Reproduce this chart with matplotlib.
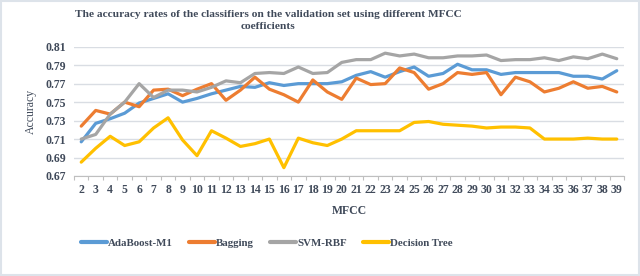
import numpy as np
import matplotlib
matplotlib.use("Agg")
import matplotlib.pyplot as plt
from matplotlib.patches import Rectangle

# MFCC coefficient counts on the x axis
mfcc = list(range(2, 40))

adaboost = [0.707, 0.727, 0.732, 0.738, 0.749, 0.754, 0.759, 0.750, 0.754, 0.759,
            0.763, 0.767, 0.766, 0.771, 0.768, 0.770, 0.770, 0.770, 0.772, 0.779,
            0.783, 0.777, 0.783, 0.788, 0.778, 0.781, 0.791, 0.785, 0.785, 0.780,
            0.782, 0.782, 0.782, 0.782, 0.778, 0.778, 0.775, 0.784]
bagging = [0.724, 0.741, 0.737, 0.750, 0.745, 0.763, 0.764, 0.757, 0.764, 0.770,
           0.752, 0.763, 0.777, 0.764, 0.758, 0.750, 0.774, 0.761, 0.753, 0.776,
           0.769, 0.770, 0.787, 0.782, 0.764, 0.770, 0.782, 0.780, 0.782, 0.758,
           0.777, 0.772, 0.761, 0.765, 0.772, 0.765, 0.767, 0.761]
svm_rbf = [0.710, 0.715, 0.737, 0.750, 0.770, 0.755, 0.763, 0.763, 0.761, 0.766,
           0.773, 0.771, 0.781, 0.782, 0.781, 0.788, 0.781, 0.782, 0.793, 0.796,
           0.796, 0.803, 0.800, 0.802, 0.798, 0.798, 0.800, 0.800, 0.801, 0.795,
           0.796, 0.796, 0.798, 0.795, 0.799, 0.797, 0.802, 0.797]
decision_tree = [0.685, 0.700, 0.713, 0.703, 0.707, 0.722, 0.733, 0.709, 0.692, 0.719,
                 0.711, 0.702, 0.705, 0.710, 0.679, 0.711, 0.706, 0.703, 0.710, 0.719,
                 0.719, 0.719, 0.719, 0.728, 0.729, 0.726, 0.725, 0.724, 0.722, 0.723,
                 0.723, 0.722, 0.710, 0.710, 0.710, 0.711, 0.710, 0.710]

y_ticks = [0.67, 0.69, 0.71, 0.73, 0.75, 0.77, 0.79, 0.81]

series = [
    ("AdaBoost-M1", adaboost, "#5B9BD5"),
    ("Bagging", bagging, "#ED7D31"),
    ("SVM-RBF", svm_rbf, "#A5A5A5"),
    ("Decision Tree", decision_tree, "#FFC000"),
]

txt_color = "#404A5A"
plt.rcParams["font.family"] = ["Liberation Serif", "DejaVu Serif"]
plt.rcParams["font.weight"] = "bold"

fig = plt.figure(figsize=(6.4, 2.76), dpi=100)
ax = fig.add_axes([74 / 640, 1 - 176 / 276, 550 / 640, (176 - 46.7) / 276])

for name, vals, col in series:
    ax.plot(mfcc, vals, color=col, linewidth=2.3, label=name, solid_capstyle="round")

ax.set_xlim(1.5, 39.5)
ax.set_ylim(0.67, 0.81)
ax.set_yticks(y_ticks)
ax.set_yticklabels([f"{v:.2f}" for v in y_ticks])
ax.set_xticks(mfcc)
ax.set_xticks(np.arange(1.5, 40, 1), minor=True)
ax.tick_params(axis="x", which="major", length=0, pad=6, labelsize=8.5, colors=txt_color)
ax.tick_params(axis="x", which="minor", length=3, color="#BFBFBF", width=0.8)
ax.tick_params(axis="y", length=0, pad=6, labelsize=8.5, colors=txt_color)
for lab in ax.get_xticklabels() + ax.get_yticklabels():
    lab.set_fontweight("bold")

ax.grid(axis="y", color="#D9DDE3", linewidth=1.0)
ax.set_axisbelow(True)
for s in ["top", "right", "left"]:
    ax.spines[s].set_visible(False)
ax.spines["bottom"].set_color("#BFBFBF")

ax.set_xlabel("MFCC", fontsize=8.5, fontweight="bold", color=txt_color, labelpad=6)
ax.set_ylabel("Accuracy", fontsize=8.5, fontweight="normal", color=txt_color, labelpad=6)

fig.text(268 / 640, 1 - 20.5 / 276,
         "The accuracy rates of the classifiers on the validation set using different MFCC\ncoefficients",
         ha="center", va="center", fontsize=8.2, fontweight="bold", color=txt_color,
         linespacing=1.55)

leg = fig.legend(loc="center", bbox_to_anchor=(267 / 640, 1 - 243 / 276), ncol=4,
                 frameon=False, fontsize=7.8, handlelength=2.4, handletextpad=0.1,
                 columnspacing=1.5)
for t in leg.get_texts():
    t.set_color(txt_color)
    t.set_fontweight("bold")
for h in leg.get_lines():
    h.set_linewidth(3)

fig.patches.append(Rectangle((0.002, 0.004), 0.996, 0.992, transform=fig.transFigure,
                             fill=False, edgecolor="#DDE3EA", linewidth=1.5))

fig.savefig("out.png", dpi=100)
